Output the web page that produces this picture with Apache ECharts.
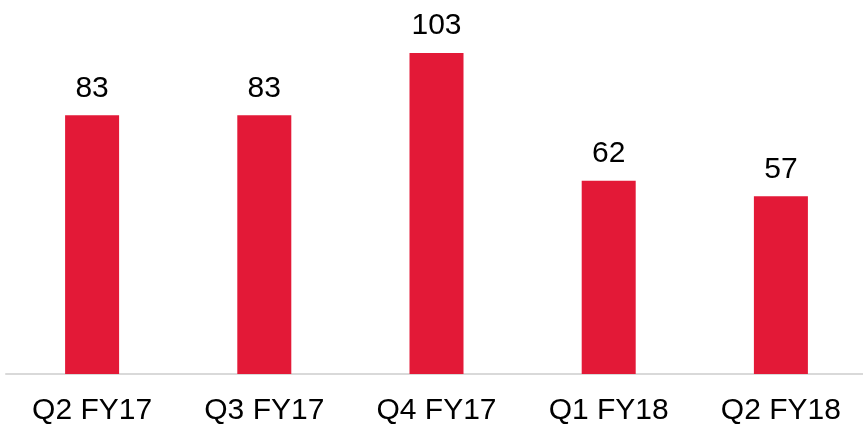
<!DOCTYPE html>
<html>
<head>
<meta charset="utf-8">
<script src="https://cdn.jsdelivr.net/npm/echarts@6/dist/echarts.min.js"></script>
<style>
  html, body { margin: 0; padding: 0; background: #fff; }
  #main { width: 863px; height: 427px; }
</style>
</head>
<body>
<div id="main"></div>
<script>
    // 季度
    let quarters = ["Q2 FY17", "Q3 FY17", "Q4 FY17", "Q1 FY18", "Q2 FY18"];
    // 数值
    let values   = [83, 83, 103, 62, 57];

    var myChart = echarts.init(document.getElementById('main'));
    myChart.setOption({
        animation:false,
        grid:{
            left:6,
            width:861,
            top:0,
            bottom:53,
            outerBoundsMode:"none",
            containLabel:false
        },
        xAxis:{
            type:"category",
            data:quarters,
            axisLine:{
                lineStyle:{color:"#d9d9d9", width:2}
            },
            axisTick:{show:false},
            axisLabel:{
                color:"#000",
                fontSize:30,
                fontFamily:"Liberation Sans, Arial, sans-serif",
                margin:22
            }
        },
        yAxis:{
            type:"value",
            min:0,
            max:120,
            show:false,
            splitLine:{show:false}
        },
        series:[{
            type:"bar",
            data:values,
            barWidth:54,
            itemStyle:{color:"#e31937"},
            label:{
                show:true,
                position:"top",
                distance:12,
                color:"#000",
                fontSize:30,
                fontFamily:"Liberation Sans, Arial, sans-serif"
            }
        }]
    });
</script>
</body>
</html>
